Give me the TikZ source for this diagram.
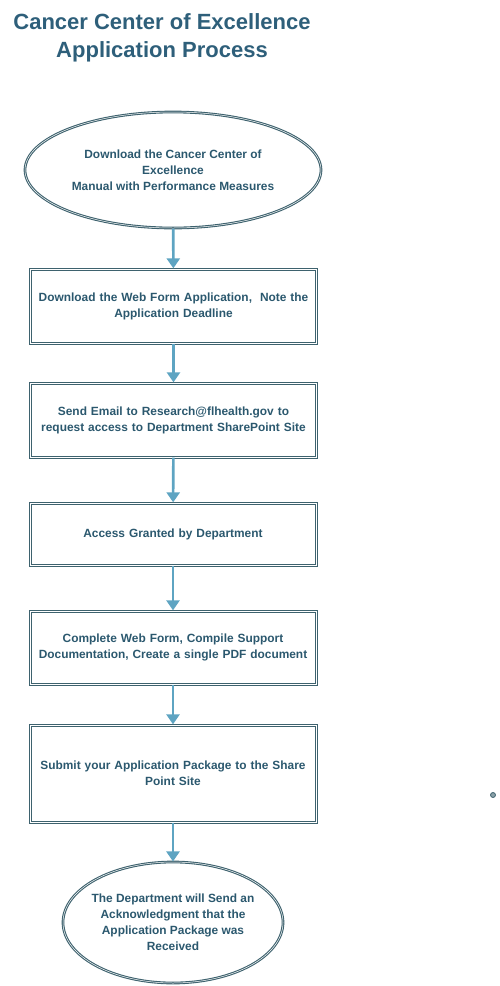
\documentclass[tikz,border=0pt]{standalone}
\usepackage{fontspec}
\setmainfont{Liberation Sans}
\usetikzlibrary{arrows.meta,shapes.geometric}
\definecolor{titleblue}{RGB}{46,95,122}
\definecolor{textblue}{RGB}{43,88,110}
\definecolor{edgeblue}{RGB}{62,98,110}
\definecolor{arrowblue}{RGB}{94,164,194}
\begin{document}
\begin{tikzpicture}[x=1pt,y=-1pt,
  steptext/.style={align=center,font=\bfseries\fontsize{11.9}{16}\selectfont,text=textblue},
  stepbox/.style={steptext,draw=edgeblue,line width=1.3pt,double=white,double distance=0.4pt,rectangle,minimum width=286pt,inner sep=0pt,text width=284pt},
  stepoval/.style={draw=edgeblue,line width=1.1pt,double=white,double distance=0.5pt,ellipse,inner sep=0pt},
  flow/.style={draw=arrowblue,line width=2.6pt,-{Triangle[width=13pt,length=10pt]}}]
\useasboundingbox (0,0) rectangle (499,986);
\node[font=\bfseries\fontsize{22}{28}\selectfont,text=titleblue,align=center] (title) at (162,38) {Cancer Center of Excellence\\Application Process};
\node[stepoval,minimum width=296pt,minimum height=116pt] (s1) at (173,170) {};
\node[steptext] (s1text) at (s1.center) {Download the Cancer Center of\\Excellence\\Manual with Performance Measures};
\node[stepbox,minimum height=74pt] (s2) at (173.5,306) {Download the Web Form Application,~ Note the\\Application Deadline};
\node[stepbox,minimum height=74pt] (s3) at (173.5,420) {Send Email to Research@flhealth.gov to\\request access to Department SharePoint Site};
\node[stepbox,minimum height=62pt] (s4) at (173,534) {Access Granted by Department};
\node[stepbox,minimum height=73pt] (s5) at (173,647.5) {Complete Web Form, Compile Support\\Documentation, Create a single PDF document};
\node[stepbox,minimum height=97pt] (s6) at (173,773.5) {Submit your Application Package to the Share\\Point Site};
\node[stepoval,minimum width=220pt,minimum height=121pt] (s7) at (173,922.5) {};
\node[steptext] (s7text) at (s7.center) {The Department will Send an\\Acknowledgment that the\\Application Package was\\Received};
\draw[flow] (s1) -- (s2);
\draw[flow] (s2) -- (s3);
\draw[flow] (s3) -- (s4);
\draw[flow] (s4) -- (s5);
\draw[flow] (s5) -- (s6);
\draw[flow] (s6) -- (s7);
\node[circle,draw=edgeblue,fill=edgeblue!60,line width=0.8pt,minimum size=5pt,inner sep=0pt] (dot) at (493,795) {};
\end{tikzpicture}
\end{document}
